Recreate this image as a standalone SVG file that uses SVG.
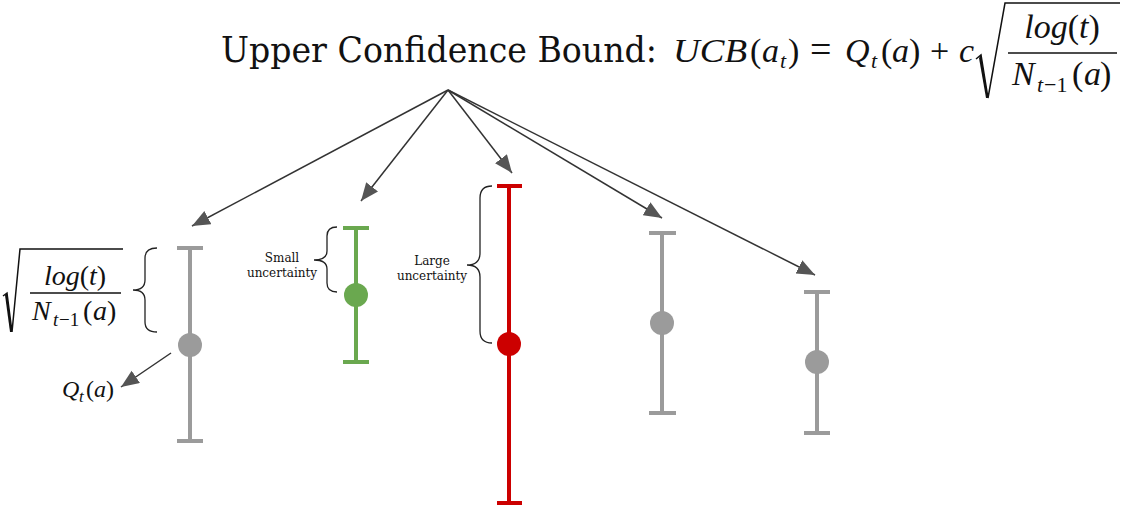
<svg xmlns="http://www.w3.org/2000/svg" width="1122" height="513" viewBox="0 0 1122 513">
<defs>
<style>
.title{font-family:"DejaVu Serif Condensed","DejaVu Serif",serif;font-size:36px;fill:#111}
.m{font-family:"Liberation Serif",serif;fill:#111}
.i{font-style:italic}
.lbl{font-family:"DejaVu Serif","Liberation Serif",serif;font-size:12px;fill:#111;text-anchor:middle}
.bar{stroke-width:4;fill:none}
.gray{stroke:#9b9b9b}
.grayf{fill:#9b9b9b}
.green{stroke:#6aa84f}
.greenf{fill:#6aa84f}
.red{stroke:#cc0000}
.redf{fill:#cc0000}
.brace{fill:none;stroke:#222;stroke-width:1.3}
.arr{stroke:#333;stroke-width:1.5;fill:none;marker-end:url(#ah)}
.rule{stroke:#111;stroke-width:1.5;fill:none}
</style>
<marker id="ah" markerUnits="userSpaceOnUse" markerWidth="20" markerHeight="16" refX="18" refY="7.5" orient="auto">
<path d="M0,0 L18,7.5 L0,15 z" fill="#555"/>
</marker>
</defs>
<rect width="1122" height="513" fill="#fff"/>

<g id="title">
<text class="title" x="221" y="62" textLength="436" lengthAdjust="spacingAndGlyphs">Upper Confidence Bound:</text>
<text class="m" font-size="34"><tspan class="i" x="673" y="62" textLength="74" lengthAdjust="spacingAndGlyphs">UCB</tspan><tspan x="750" y="62">(</tspan><tspan class="i" x="762" y="62">a</tspan><tspan class="i" x="780" y="68" font-size="22">t</tspan><tspan x="788" y="62">)</tspan><tspan x="810" y="62" font-size="38">=</tspan><tspan class="i" x="845" y="62">Q</tspan><tspan class="i" x="871" y="68" font-size="22">t</tspan><tspan x="881" y="62">(</tspan><tspan class="i" x="892" y="62">a</tspan><tspan x="909" y="62">)</tspan><tspan x="930" y="62">+</tspan><tspan class="i" x="959" y="62">c</tspan></text>
<path class="rule" d="M976,59 L981,55 L988,98 L1005,3 L1120,3"/>
<path d="M981,55 L988,98 L986,98 L979,58 z" fill="#111"/>
<text class="m" font-size="34" x="1062" y="38" text-anchor="middle"><tspan class="i">log</tspan>(<tspan class="i">t</tspan>)</text>
<line class="rule" x1="1008" y1="53" x2="1117" y2="53"/>
<text class="m" font-size="34"><tspan class="i" x="1012" y="85">N</tspan><tspan class="i" x="1037" y="92" font-size="22">t</tspan><tspan x="1044" y="92" font-size="22">−1</tspan><tspan x="1072" y="85">(</tspan><tspan class="i" x="1084" y="85">a</tspan><tspan x="1100" y="85">)</tspan></text>
</g>

<g id="connectors">
<line class="arr" x1="448" y1="90" x2="192" y2="226"/>
<line class="arr" x1="448" y1="90" x2="361" y2="201"/>
<line class="arr" x1="448" y1="90" x2="512" y2="173"/>
<line class="arr" x1="448" y1="90" x2="662" y2="218"/>
<line class="arr" x1="448" y1="90" x2="815" y2="275"/>
<line class="arr" x1="171" y1="353" x2="121" y2="387"/>
</g>

<g id="bar1">
<line class="bar gray" x1="190" y1="248" x2="190" y2="441"/>
<line class="bar gray" x1="177" y1="248" x2="203" y2="248"/>
<line class="bar gray" x1="177" y1="441" x2="203" y2="441"/>
<circle class="grayf" cx="190" cy="345" r="12"/>
</g>
<g id="bar1-formula">
<path class="rule" d="M3,296 L7,293 L12,332 L20,249 L123,249"/>
<path d="M7,293 L12,332 L10,332 L5,295 z" fill="#111"/>
<text class="m" font-size="28" x="75" y="285" text-anchor="middle"><tspan class="i">log</tspan>(<tspan class="i">t</tspan>)</text>
<line class="rule" x1="30" y1="293" x2="121" y2="293"/>
<text class="m" font-size="28"><tspan class="i" x="32" y="320">N</tspan><tspan class="i" x="53" y="326" font-size="19">t</tspan><tspan x="59" y="326" font-size="19">−1</tspan><tspan x="83" y="320">(</tspan><tspan class="i" x="93" y="320">a</tspan><tspan x="107" y="320">)</tspan></text>
<path class="brace" d="M157,248 Q145,248 145,258 L145,280 Q145,290 133,290 Q145,290 145,300 L145,322 Q145,332 157,332"/>
</g>
<g id="bar1-q">
<text class="m" font-size="24"><tspan class="i" x="62" y="397">Q</tspan><tspan class="i" x="79" y="402" font-size="17">t</tspan><tspan x="86" y="397">(</tspan><tspan class="i" x="94" y="397">a</tspan><tspan x="106" y="397">)</tspan></text>
</g>

<g id="bar2">
<line class="bar green" x1="356" y1="228" x2="356" y2="362"/>
<line class="bar green" x1="343" y1="228" x2="369" y2="228"/>
<line class="bar green" x1="343" y1="362" x2="369" y2="362"/>
<circle class="greenf" cx="356" cy="295" r="12"/>
<path class="brace" d="M337,227 Q327,227 327,236 L327,251 Q327,260 314,260 Q327,260 327,269 L327,283 Q327,292 337,292"/>
<text class="lbl" x="282" y="262">Small</text>
<text class="lbl" x="282" y="277">uncertainty</text>
</g>

<g id="bar3">
<line class="bar red" x1="509" y1="186" x2="509" y2="503"/>
<line class="bar red" x1="497" y1="186" x2="522" y2="186"/>
<line class="bar red" x1="497" y1="503" x2="522" y2="503"/>
<circle class="redf" cx="509" cy="344" r="12"/>
<path class="brace" d="M492,186 Q480,186 480,198 L480,253 Q480,265 467,265 Q480,265 480,277 L480,331 Q480,343 492,343"/>
<text class="lbl" x="432" y="265">Large</text>
<text class="lbl" x="432" y="280">uncertainty</text>
</g>

<g id="bar4">
<line class="bar gray" x1="662" y1="233" x2="662" y2="413"/>
<line class="bar gray" x1="649" y1="233" x2="676" y2="233"/>
<line class="bar gray" x1="649" y1="413" x2="676" y2="413"/>
<circle class="grayf" cx="662" cy="323" r="12"/>
</g>

<g id="bar5">
<line class="bar gray" x1="817" y1="292" x2="817" y2="433"/>
<line class="bar gray" x1="804" y1="292" x2="830" y2="292"/>
<line class="bar gray" x1="804" y1="433" x2="830" y2="433"/>
<circle class="grayf" cx="817" cy="362" r="12"/>
</g>
</svg>
